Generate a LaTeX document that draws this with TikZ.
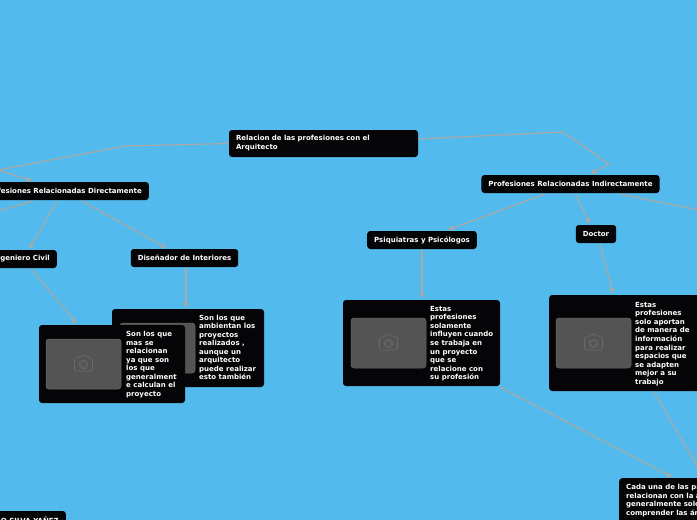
\documentclass[tikz,border=0pt]{standalone}
\usepackage{fontspec}
\setmainfont{DejaVu Sans}
\usetikzlibrary{arrows.meta,calc}
\definecolor{skyback}{HTML}{52BAEC}
\definecolor{boxblack}{HTML}{050508}
\definecolor{linkgray}{HTML}{A9A9A6}
\definecolor{photogray}{HTML}{545454}
\definecolor{photoline}{HTML}{6A6A6A}
\tikzset{
  topic/.style={fill=boxblack,rounded corners=3pt,text=white,font=\bfseries\fontsize{7}{8.9}\selectfont,
    align=left,inner xsep=7pt,inner ysep=0pt,minimum height=18pt},
  card/.style={fill=boxblack,rounded corners=3pt,inner sep=0pt},
  photo/.style={fill=photogray,draw=photoline,line width=.5pt,rounded corners=3pt,
    minimum width=75pt,minimum height=50pt,inner sep=0pt},
  cardtext/.style={anchor=north west,text=white,inner sep=0pt,align=left,
    font=\bfseries\fontsize{7}{8.55}\selectfont},
  link/.style={draw=linkgray,line width=1.2pt},
  linkto/.style={link,-{Latex[length=5.5pt,width=6pt]}},
  camera/.pic={
    \draw[photoline,line width=.6pt,rounded corners=1.5pt] (-9,-6) -- (-4,-6) -- (-2.5,-8.5) -- (3,-8.5) -- (4.5,-6) -- (9,-6) -- (9,7) -- (-9,7) -- cycle;
    \draw[photoline,line width=.6pt] (0,.5) circle (4.5pt);
    \draw[photoline,line width=.6pt] (0,.5) circle (3pt);
  }
}
\begin{document}
\begin{tikzpicture}[x=1pt,y=-1pt]
  \useasboundingbox (0,0) rectangle (697,520);
  \clip (0,0) rectangle (697,520);
  \fill[skyback] (0,0) rectangle (697,520);

  % free ends and bends
  \coordinate (bendA) at (125,146);
  \coordinate (bendB) at (-2,170);
  \coordinate (leftEnd) at (-2,211);
  \coordinate (bendC) at (563,132);
  \coordinate (bendD) at (609,164);
  \coordinate (rightEnd) at (699,210);
  \coordinate (bottomEnd) at (699,469);

  % topics
  \node[topic,minimum height=27pt,text width=175pt] (root) at (323.5,143.5) {Relacion de las profesiones con el\\Arquitecto};
  \node[topic,anchor=east] (direct) at (149,191) {Profesiones Relacionadas Directamente};
  \node[topic,anchor=east] (civil) at (57,259) {Ingeniero Civil};
  \node[topic] (disenador) at (184.5,258) {Diseñador de Interiores};
  \node[topic] (indirect) at (570.5,184) {Profesiones Relacionadas Indirectamente};
  \node[topic] (psiquiatras) at (422,240) {Psiquiatras y Psicólogos};
  \node[topic] (doctor) at (596,234) {Doctor};
  \node[topic,anchor=east] (autor) at (66,520) {O SILVA YAÑEZ};

  \draw[link] (root.west) -- (bendA) -- (bendB);
  \draw[linkto] (bendB) -- ([xshift=-31pt,yshift=1pt]direct.north);
  \draw[link] ([xshift=-31pt,yshift=-1pt]direct.south) -- (leftEnd);
  \draw[linkto] ([xshift=-6pt,yshift=-1pt]direct.south) -- ([xshift=8pt,yshift=1pt]civil.north);
  \draw[linkto] ([xshift=19pt,yshift=-1pt]direct.south) -- ([xshift=-18pt,yshift=1pt]disenador.north);
  \draw[linkto] ([yshift=4.5pt]root.east) -- (bendC) -- (bendD) -- ([xshift=20pt,yshift=1pt]indirect.north);
  \draw[linkto] ([xshift=-26pt,yshift=-1pt]indirect.south) -- ([xshift=26pt,yshift=1pt]psiquiatras.north);
  \draw[linkto] ([xshift=5pt,yshift=-1pt]indirect.south) -- ([xshift=-6pt,yshift=1pt]doctor.north);
  \draw[link] ([xshift=50pt,yshift=-1pt]indirect.south) -- (rightEnd);

  % cards
  \node[card,minimum width=152pt,minimum height=78pt] (cardDis) at (188,348) {};
  \node[photo] (photoDis) at (157.5,348) {};
  \node[cardtext] (textDis) at (199,314.5) {Son los que\\ambientan los\\proyectos\\realizados ,\\aunque un\\arquitecto\\puede realizar\\esto también};

  \node[card,minimum width=146pt,minimum height=78pt] (cardCivil) at (112,364) {};
  \node[photo] (photoCivil) at (83.5,364) {};
  \pic at (photoCivil) {camera};
  \node[cardtext] (textCivil) at (126,331) {Son los que\\mas se\\relacionan\\ya que son\\los que\\generalment\\e calculan el\\proyecto};

  \node[card,minimum width=157pt,minimum height=86pt] (cardPsi) at (421.5,343) {};
  \node[photo] (photoPsi) at (388.5,343) {};
  \pic at (photoPsi) {camera};
  \node[cardtext] (textPsi) at (430,306) {Estas\\profesiones\\solamente\\influyen cuando\\se trabaja en\\un proyecto\\que se\\relacione con\\su profesión};

  \node[card,anchor=west,minimum width=160pt,minimum height=96pt] (cardDoc) at (549,343) {};
  \node[photo] (photoDoc) at (593.5,343) {};
  \pic at (photoDoc) {camera};
  \node[cardtext] (textDoc) at (635,302) {Estas\\profesiones\\solo aportan\\de manera de\\información\\para realizar\\espacios que\\se adapten\\mejor a su\\trabajo};

  \node[card,anchor=north west,minimum width=160pt,minimum height=60pt] (cardFin) at (619,478) {};
  \node[cardtext] (textFin) at (626,484) {Cada una de las pr\\relacionan con la a\\generalmente solo\\comprender las ár};

  \draw[linkto] ([xshift=10pt,yshift=-1pt]civil.south) -- ([xshift=-35pt,yshift=1pt]cardCivil.north);
  \draw[linkto] ([xshift=1.5pt,yshift=-1pt]disenador.south) -- ([xshift=-2pt,yshift=1pt]cardDis.north);
  \draw[linkto] ([yshift=-1pt]psiquiatras.south) -- ([xshift=.5pt,yshift=1pt]cardPsi.north);
  \draw[linkto] ([xshift=4pt,yshift=-1pt]doctor.south) -- ([xshift=-16pt,yshift=1pt]cardDoc.north);
  \draw[linkto] ([yshift=-1pt]cardPsi.south east) -- ([xshift=-27pt,yshift=1pt]cardFin.north);
  \draw[link] ([xshift=25pt,yshift=-1pt]cardDoc.south) -- (bottomEnd);
\end{tikzpicture}
\end{document}
